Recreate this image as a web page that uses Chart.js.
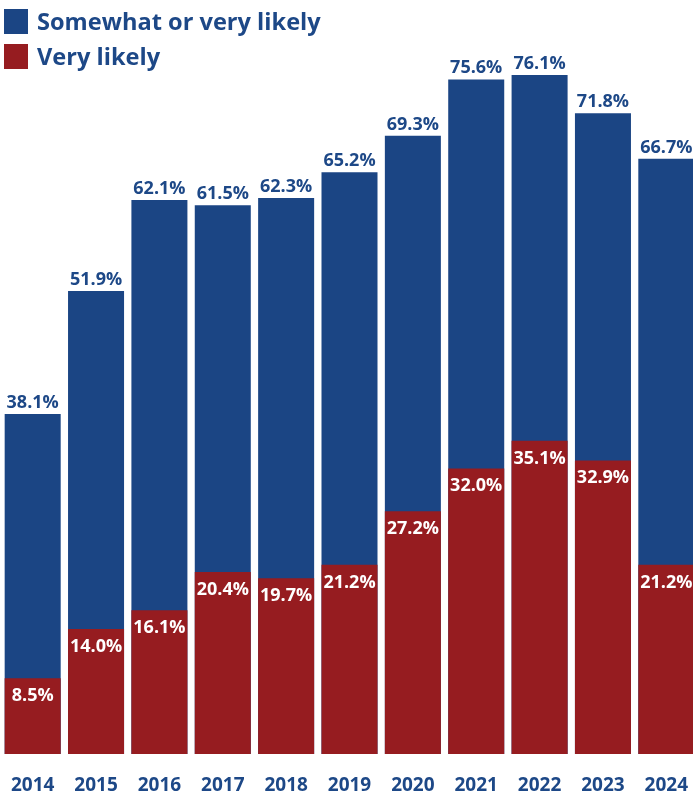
<!DOCTYPE html>
<html>
<head>
<meta charset="utf-8">
<script src="https://cdn.jsdelivr.net/npm/chart.js@4"></script>
<style>
  html, body { margin: 0; padding: 0; background: #fff; overflow: hidden; }
  #wrap { position: relative; width: 698px; height: 794px; }
  .leg { position: absolute; left: 4px; display: flex; align-items: center;
         font-family: "Open Sans", sans-serif; font-weight: 700; font-size: 23.6px; color: #1d4887; }
  .leg span.box { display: inline-block; width: 24px; height: 25px; margin-right: 9px; }
</style>
</head>
<body>
<div id="wrap">
  <canvas id="grafico" width="698" height="794"></canvas>
  <div class="leg" style="top:5px"><span class="box" style="background:#1b4584"></span>Somewhat or very likely</div>
  <div class="leg" style="top:40px"><span class="box" style="background:#961c20"></span>Very likely</div>
</div>
<script>
const anos = ['2014', '2015', '2016', '2017', '2018', '2019', '2020', '2021', '2022', '2023', '2024'];
const algoProvavel = [38.1, 51.9, 62.1, 61.5, 62.3, 65.2, 69.3, 75.6, 76.1, 71.8, 66.7];
const muitoProvavel = [8.5, 14.0, 16.1, 20.4, 19.7, 21.2, 27.2, 32.0, 35.1, 32.9, 21.2];

const azul = '#1b4584';
const vermelho = '#961c20';
const fonte = '"Open Sans", sans-serif';

// escreve os valores em cima / dentro das barras e os anos embaixo
const rotulos = {
  id: 'rotulos',
  afterDatasetsDraw(chart) {
    const c = chart.ctx;
    c.save();
    c.font = 'bold 18px ' + fonte;
    c.textAlign = 'center';
    c.textBaseline = 'alphabetic';
    chart.getDatasetMeta(1).data.forEach((barra, i) => {
      c.fillStyle = '#1d4887';
      c.fillText(algoProvavel[i].toFixed(1) + '%', barra.x, barra.y - 6);
    });
    chart.getDatasetMeta(0).data.forEach((barra, i) => {
      c.fillStyle = '#fff';
      c.fillText(muitoProvavel[i].toFixed(1) + '%', barra.x, barra.y + 23);
    });
    c.font = 'bold 19px ' + fonte;
    c.fillStyle = '#1d4887';
    anos.forEach((ano, i) => {
      c.fillText(ano, chart.scales.x.getPixelForValue(i), chart.chartArea.bottom + 37);
    });
    c.restore();
  }
};

new Chart(document.getElementById('grafico'), {
  type: 'bar',
  data: {
    labels: anos,
    datasets: [
      { label: 'Very likely', data: muitoProvavel, backgroundColor: vermelho,
        barPercentage: 0.884, categoryPercentage: 1 },
      { label: 'Somewhat or very likely', data: algoProvavel, backgroundColor: azul,
        barPercentage: 0.884, categoryPercentage: 1 }
    ]
  },
  options: {
    responsive: false,
    animation: false,
    layout: { padding: { left: 1, right: 0, top: 0, bottom: 40 } },
    plugins: { legend: { display: false }, tooltip: { enabled: false } },
    scales: {
      x: {
        display: false,
        stacked: true
      },
      y: {
        display: false,
        stacked: false,
        min: 0,
        max: 84.5
      }
    }
  },
  plugins: [rotulos]
});
</script>
</body>
</html>
